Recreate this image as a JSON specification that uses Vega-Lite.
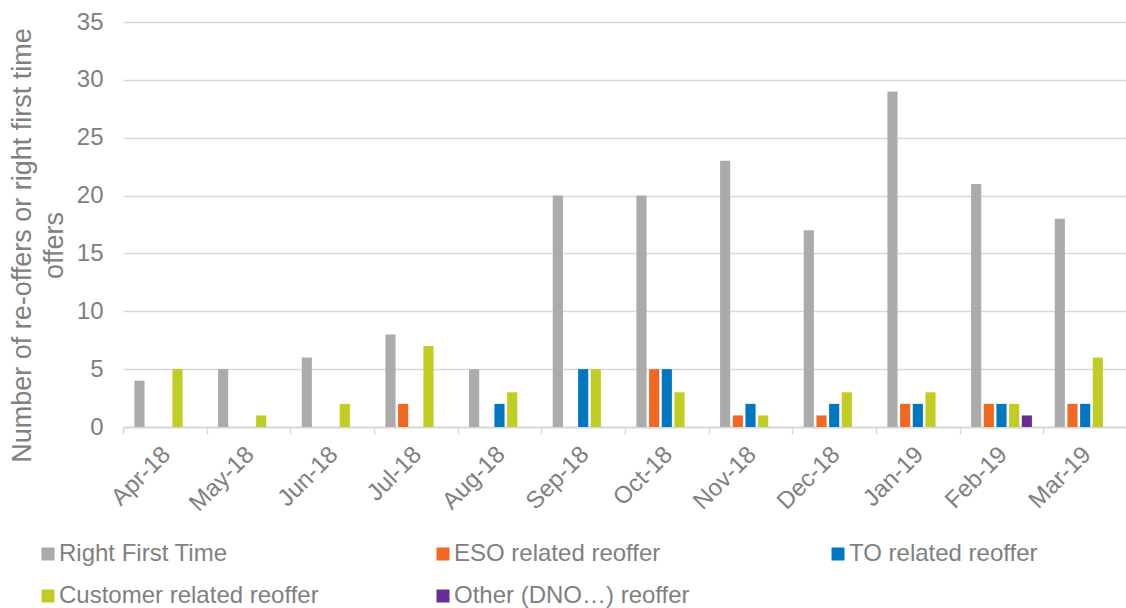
{
  "$schema": "https://vega.github.io/schema/vega-lite/v6.json",
  "autosize": {"type": "none"},
  "padding": {"left": 123, "top": 22, "right": 0, "bottom": 181},
  "width": 1004,
  "height": 405,
  "background": "white",
  "config": {
    "font": "Liberation Sans",
    "view": {"stroke": null},
    "axis": {"labelColor": "#808080", "titleColor": "#808080", "labelFont": "Liberation Sans", "titleFont": "Liberation Sans"}
  },
  "data": {
    "values": [
      {"month": "Apr-18", "series": "Right First Time", "count": 4},
      {"month": "Apr-18", "series": "ESO related reoffer", "count": 0},
      {"month": "Apr-18", "series": "TO related reoffer", "count": 0},
      {"month": "Apr-18", "series": "Customer related reoffer", "count": 5},
      {"month": "Apr-18", "series": "Other (DNO…) reoffer", "count": 0},
      {"month": "May-18", "series": "Right First Time", "count": 5},
      {"month": "May-18", "series": "ESO related reoffer", "count": 0},
      {"month": "May-18", "series": "TO related reoffer", "count": 0},
      {"month": "May-18", "series": "Customer related reoffer", "count": 1},
      {"month": "May-18", "series": "Other (DNO…) reoffer", "count": 0},
      {"month": "Jun-18", "series": "Right First Time", "count": 6},
      {"month": "Jun-18", "series": "ESO related reoffer", "count": 0},
      {"month": "Jun-18", "series": "TO related reoffer", "count": 0},
      {"month": "Jun-18", "series": "Customer related reoffer", "count": 2},
      {"month": "Jun-18", "series": "Other (DNO…) reoffer", "count": 0},
      {"month": "Jul-18", "series": "Right First Time", "count": 8},
      {"month": "Jul-18", "series": "ESO related reoffer", "count": 2},
      {"month": "Jul-18", "series": "TO related reoffer", "count": 0},
      {"month": "Jul-18", "series": "Customer related reoffer", "count": 7},
      {"month": "Jul-18", "series": "Other (DNO…) reoffer", "count": 0},
      {"month": "Aug-18", "series": "Right First Time", "count": 5},
      {"month": "Aug-18", "series": "ESO related reoffer", "count": 0},
      {"month": "Aug-18", "series": "TO related reoffer", "count": 2},
      {"month": "Aug-18", "series": "Customer related reoffer", "count": 3},
      {"month": "Aug-18", "series": "Other (DNO…) reoffer", "count": 0},
      {"month": "Sep-18", "series": "Right First Time", "count": 20},
      {"month": "Sep-18", "series": "ESO related reoffer", "count": 0},
      {"month": "Sep-18", "series": "TO related reoffer", "count": 5},
      {"month": "Sep-18", "series": "Customer related reoffer", "count": 5},
      {"month": "Sep-18", "series": "Other (DNO…) reoffer", "count": 0},
      {"month": "Oct-18", "series": "Right First Time", "count": 20},
      {"month": "Oct-18", "series": "ESO related reoffer", "count": 5},
      {"month": "Oct-18", "series": "TO related reoffer", "count": 5},
      {"month": "Oct-18", "series": "Customer related reoffer", "count": 3},
      {"month": "Oct-18", "series": "Other (DNO…) reoffer", "count": 0},
      {"month": "Nov-18", "series": "Right First Time", "count": 23},
      {"month": "Nov-18", "series": "ESO related reoffer", "count": 1},
      {"month": "Nov-18", "series": "TO related reoffer", "count": 2},
      {"month": "Nov-18", "series": "Customer related reoffer", "count": 1},
      {"month": "Nov-18", "series": "Other (DNO…) reoffer", "count": 0},
      {"month": "Dec-18", "series": "Right First Time", "count": 17},
      {"month": "Dec-18", "series": "ESO related reoffer", "count": 1},
      {"month": "Dec-18", "series": "TO related reoffer", "count": 2},
      {"month": "Dec-18", "series": "Customer related reoffer", "count": 3},
      {"month": "Dec-18", "series": "Other (DNO…) reoffer", "count": 0},
      {"month": "Jan-19", "series": "Right First Time", "count": 29},
      {"month": "Jan-19", "series": "ESO related reoffer", "count": 2},
      {"month": "Jan-19", "series": "TO related reoffer", "count": 2},
      {"month": "Jan-19", "series": "Customer related reoffer", "count": 3},
      {"month": "Jan-19", "series": "Other (DNO…) reoffer", "count": 0},
      {"month": "Feb-19", "series": "Right First Time", "count": 21},
      {"month": "Feb-19", "series": "ESO related reoffer", "count": 2},
      {"month": "Feb-19", "series": "TO related reoffer", "count": 2},
      {"month": "Feb-19", "series": "Customer related reoffer", "count": 2},
      {"month": "Feb-19", "series": "Other (DNO…) reoffer", "count": 1},
      {"month": "Mar-19", "series": "Right First Time", "count": 18},
      {"month": "Mar-19", "series": "ESO related reoffer", "count": 2},
      {"month": "Mar-19", "series": "TO related reoffer", "count": 2},
      {"month": "Mar-19", "series": "Customer related reoffer", "count": 6},
      {"month": "Mar-19", "series": "Other (DNO…) reoffer", "count": 0}
    ]
  },
  "mark": {"type": "bar"},
  "encoding": {
    "x": {
      "field": "month",
      "type": "nominal",
      "sort": null,
      "scale": {"paddingInner": 0, "paddingOuter": 0},
      "axis": {
        "title": null,
        "labelAngle": -45,
        "labelFontSize": 24,
        "labelPadding": 8,
        "labelOffset": -7,
        "tickBand": "extent",
        "tickColor": "#d9d9d9",
        "tickWidth": 1.5,
        "tickSize": 7,
        "domainColor": "#d9d9d9",
        "domainWidth": 2,
        "grid": false
      }
    },
    "xOffset": {
      "field": "series",
      "type": "nominal",
      "sort": ["Right First Time", "ESO related reoffer", "TO related reoffer", "Customer related reoffer", "Other (DNO…) reoffer"],
      "scale": {"paddingInner": 0.2, "paddingOuter": 0.9}
    },
    "y": {
      "field": "count",
      "type": "quantitative",
      "scale": {"domain": [0, 35], "nice": false},
      "axis": {
        "title": ["Number of re-offers or right first time", "offers"],
        "titleFontSize": 27,
        "titleFontWeight": "normal",
        "titleLineHeight": 32,
        "titleAngle": -90,
        "titleAlign": "center",
        "titleBaseline": "middle",
        "titleX": -101,
        "titleY": 223,
        "values": [0, 5, 10, 15, 20, 25, 30, 35],
        "labelFontSize": 24,
        "labelPadding": 20,
        "domain": false,
        "ticks": false,
        "gridColor": "#d9d9d9",
        "gridWidth": 1.5
      }
    },
    "color": {
      "field": "series",
      "type": "nominal",
      "sort": ["Right First Time", "ESO related reoffer", "TO related reoffer", "Customer related reoffer", "Other (DNO…) reoffer"],
      "scale": {
        "domain": ["Right First Time", "ESO related reoffer", "TO related reoffer", "Customer related reoffer", "Other (DNO…) reoffer"],
        "range": ["#ababab", "#f26722", "#0078c1", "#c2cd23", "#6a2d91"]
      },
      "legend": {
        "title": null,
        "orient": "none",
        "legendX": -87,
        "legendY": 520,
        "direction": "horizontal",
        "columns": 3,
        "gridAlign": "all",
        "columnPadding": 112,
        "rowPadding": 18,
        "symbolType": "square",
        "symbolSize": 169,
        "symbolStrokeWidth": 0,
        "labelFontSize": 24,
        "labelColor": "#808080",
        "labelLimit": 400,
        "labelOffset": -1,
        "padding": 0
      }
    }
  }
}
